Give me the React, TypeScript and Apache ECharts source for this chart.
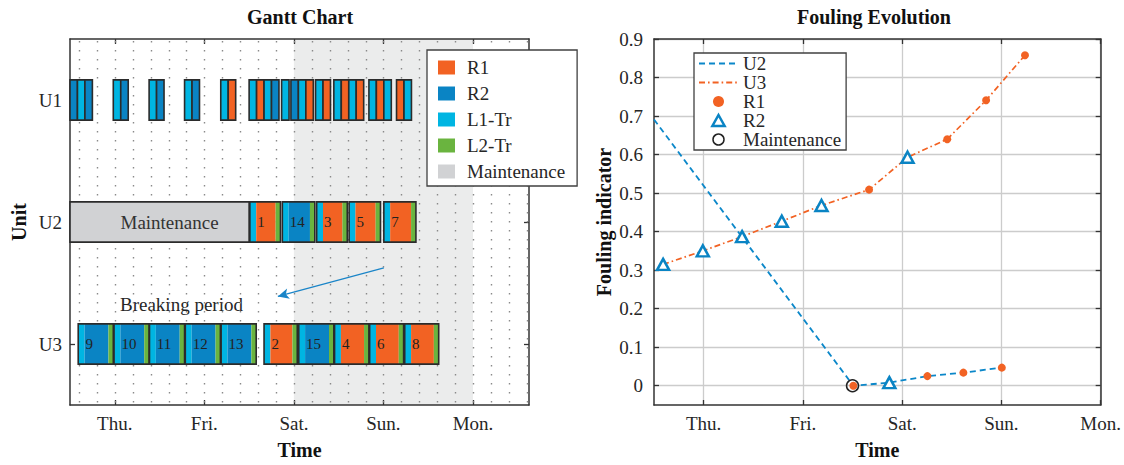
import React, { useEffect, useRef } from 'react';
import * as echarts from 'echarts';

const FONT = "'Liberation Serif', serif";
const INK = '#262626';
const AX = '#333333';

// ---- axes ----
const chartStart = 12; // Wed 12:00 (hours from Wed 00:00)
const ganttEnd = 135;
const foulingEnd = 120;
const dayTicks = [24, 48, 72, 96, 120];
const dayLabels = ['Thu.', 'Fri.', 'Sat.', 'Sun.', 'Mon.'];
const unitRows = [1, 2, 3];
const unitNames = ['U1', 'U2', 'U3'];
const foulingTicks = [0, 0.1, 0.2, 0.3, 0.4, 0.5, 0.6, 0.7, 0.8, 0.9];
const weekend = [72, 120];

// ---- tasks ----
const taskNames = ['R1', 'R2', 'L1-Tr', 'L2-Tr', 'Maintenance'];
const taskColors = ['#f26223', '#0a84c4', '#00b5e2', '#6ab43f', '#d1d2d4'];

// U1 groups of 2-hour tasks
const u1GroupStart = [12, 23.6, 33.2, 42.7, 52.4, 60.0, 68.7, 71.2, 77.8, 82.7, 92.1, 99.5];
const u1GroupTasks = [
  ['R2', 'L1-Tr', 'R2'],
  ['L1-Tr', 'R2'],
  ['L1-Tr', 'R2'],
  ['L1-Tr', 'R2'],
  ['L1-Tr', 'R1'],
  ['L1-Tr', 'R1', 'L1-Tr', 'R2'],
  ['L1-Tr'],
  ['R2', 'L1-Tr', 'R1'],
  ['L1-Tr', 'R1'],
  ['L1-Tr', 'R1', 'L1-Tr', 'R1'],
  ['L1-Tr', 'R1', 'L1-Tr'],
  ['R1', 'L1-Tr'],
];
const u1TaskHours = 2;

// U2
const u2MaintStart = 12;
const u2MaintEnd = 60;
const u2BatchNo = [1, 14, 3, 5, 7];
const u2BatchStart = [60.2, 68.9, 78.1, 86.8, 96.1];
const u2BatchProduct = ['R1', 'R2', 'R1', 'R1', 'R1'];
const u2BatchMain = [5.2, 5.7, 5.2, 5.4, 5.6];
const u2InitialFouling = 0.691;
const u2Fouling = [0, 0.008, 0.025, 0.034, 0.047];

// U3
const u3BatchNo = [9, 10, 11, 12, 13, 2, 15, 4, 6, 8];
const u3BatchStart = [14.2, 23.8, 33.3, 42.9, 52.5, 64.0, 73.3, 82.9, 92.3, 101.7];
const u3BatchProduct = ['R2', 'R2', 'R2', 'R2', 'R2', 'R1', 'R2', 'R1', 'R1', 'R1'];
const u3BatchMain = [6.4, 6.4, 6.4, 6.4, 6.4, 5.9, 6.4, 6.2, 6.1, 6.1];
const u3Fouling = [0.315, 0.35, 0.387, 0.427, 0.468, 0.509, 0.593, 0.64, 0.741, 0.858];

const l1Hours = 1.7;
const l2Hours = 1.3;

// annotation
const arrowFrom = [96.1, 2.376];
const arrowTo = [67.7, 2.61];

const C_R1 = taskColors[0];
const C_R2 = taskColors[1];
const C_L1 = taskColors[2];
const C_L2 = taskColors[3];
const C_M = taskColors[4];
const C_U2 = '#0b87c9';
const C_ARROW = '#1a85c8';
const BAR_FRAC = 0.33;

function buildOption() {
  const dotGrid: number[][] = [];
  for (let k = 0; k < 26; k++) dotGrid.push([14.4 + 4.8 * k, 1]);

  const u1Data: number[][] = [];
  u1GroupStart.forEach((s, g) => {
    u1GroupTasks[g].forEach((t, i) => {
      u1Data.push([s + i * u1TaskHours, 1, taskNames.indexOf(t)]);
    });
  });

  const batchData: number[][] = [];
  u2BatchStart.forEach((s, i) =>
    batchData.push([s, 2, l1Hours, u2BatchMain[i], l2Hours, taskNames.indexOf(u2BatchProduct[i]), u2BatchNo[i]])
  );
  u3BatchStart.forEach((s, i) =>
    batchData.push([s, 3, l1Hours, u3BatchMain[i], l2Hours, taskNames.indexOf(u3BatchProduct[i]), u3BatchNo[i]])
  );

  const u2Line = [[chartStart, u2InitialFouling], ...u2BatchStart.map((s, i) => [s, u2Fouling[i]])];
  const u3Line = u3BatchStart.map((s, i) => [s, u3Fouling[i]]);
  const r1Pts: number[][] = [];
  const r2Pts: number[][] = [];
  u2BatchStart.forEach((s, i) => (u2BatchProduct[i] === 'R1' ? r1Pts : r2Pts).push([s, u2Fouling[i]]));
  u3BatchStart.forEach((s, i) => (u3BatchProduct[i] === 'R1' ? r1Pts : r2Pts).push([s, u3Fouling[i]]));
  const maintPts = [[u2MaintEnd, u2Fouling[0]]];

  const axisLine = { show: true, onZero: false, lineStyle: { color: AX, width: 1.5 } };
  const tick = (vals: number[]) => ({
    show: true, inside: true, length: 5, customValues: vals, lineStyle: { color: AX, width: 1.3 },
  });
  const nameStyle = { fontFamily: FONT, fontSize: 20, fontWeight: 'bold', color: '#111' };
  const labelBase = { fontFamily: FONT, fontSize: 19, color: INK };
  const dayFmt = (v: number) => dayLabels[dayTicks.indexOf(v)] ?? '';

  const barH = (api: any) => Math.abs(api.size([0, 1])[1]) * BAR_FRAC;
  const hiddenSymbol = { color: 'rgba(0,0,0,0)', borderWidth: 0, opacity: 0 };

  return {
    animation: false,
    textStyle: { fontFamily: FONT, color: INK },
    grid: [
      { left: 70, top: 39, width: 459, height: 371, containLabel: false },
      { left: 654, top: 39, width: 450, height: 372, containLabel: false },
    ],
    xAxis: [
      {
        gridIndex: 0, type: 'value', min: chartStart, max: ganttEnd, position: 'bottom',
        axisLine, axisTick: tick(dayTicks),
        axisLabel: { ...labelBase, customValues: dayTicks, formatter: dayFmt, margin: 9 },
        splitLine: { show: false },
        name: 'Time', nameLocation: 'middle', nameGap: 35, nameTextStyle: nameStyle,
      },
      {
        gridIndex: 0, type: 'value', min: chartStart, max: ganttEnd, position: 'top',
        axisLine, axisTick: tick(dayTicks), axisLabel: { show: false }, splitLine: { show: false },
      },
      {
        gridIndex: 1, type: 'value', min: chartStart, max: foulingEnd, position: 'bottom',
        axisLine, axisTick: tick(dayTicks),
        axisLabel: { ...labelBase, customValues: dayTicks, formatter: dayFmt, margin: 9 },
        splitLine: { show: true, lineStyle: { color: '#cccccc', width: 1.3 } },
        name: 'Time', nameLocation: 'middle', nameGap: 35, nameTextStyle: nameStyle,
      },
      {
        gridIndex: 1, type: 'value', min: chartStart, max: foulingEnd, position: 'top',
        axisLine, axisTick: tick(dayTicks), axisLabel: { show: false }, splitLine: { show: false },
      },
    ],
    yAxis: [
      {
        gridIndex: 0, type: 'value', min: 0.5, max: 3.5, inverse: true, position: 'left',
        axisLine, axisTick: tick(unitRows),
        axisLabel: { ...labelBase, customValues: unitRows, formatter: (v: number) => unitNames[unitRows.indexOf(v)] ?? '', margin: 8 },
        splitLine: { show: false },
        name: 'Unit', nameLocation: 'middle', nameGap: 41, nameTextStyle: nameStyle,
      },
      {
        gridIndex: 0, type: 'value', min: 0.5, max: 3.5, inverse: true, position: 'right',
        axisLine, axisTick: tick(unitRows), axisLabel: { show: false }, splitLine: { show: false },
      },
      {
        gridIndex: 1, type: 'value', min: -0.05, max: 0.9, position: 'left',
        axisLine, axisTick: tick(foulingTicks),
        axisLabel: { ...labelBase, customValues: foulingTicks, formatter: (v: number) => (v === 0 ? '0' : String(Math.round(v * 10) / 10)), margin: 11 },
        splitLine: { show: true, lineStyle: { color: '#cccccc', width: 1.3 } },
        name: 'Fouling indicator', nameLocation: 'middle', nameGap: 40, nameTextStyle: nameStyle,
      },
      {
        gridIndex: 1, type: 'value', min: -0.05, max: 0.9, position: 'right',
        axisLine, axisTick: tick(foulingTicks), axisLabel: { show: false }, splitLine: { show: false },
      },
    ],
    legend: [
      {
        orient: 'vertical', left: 427, top: 50, itemWidth: 17, itemHeight: 14, itemGap: 7,
        padding: [8, 12, 5, 11], backgroundColor: '#fff', borderColor: '#404040', borderWidth: 1.3,
        selectedMode: false,
        textStyle: { fontFamily: FONT, fontSize: 19, lineHeight: 19, color: INK, padding: [0, 0, 0, 7] },
        data: taskNames.map((n, i) => ({ name: n, icon: 'rect', itemStyle: { color: taskColors[i], borderWidth: 0, opacity: 1 } })),
      },
      {
        orient: 'vertical', left: 694, top: 53, itemWidth: 39, itemHeight: 11, itemGap: 0,
        padding: [1, 5, 1, 4], backgroundColor: '#fff', borderColor: '#404040', borderWidth: 1.3,
        selectedMode: false,
        textStyle: { fontFamily: FONT, fontSize: 19, lineHeight: 19, color: INK },
        data: [
          { name: 'U2', itemStyle: hiddenSymbol },
          { name: 'U3', itemStyle: hiddenSymbol },
          { name: 'R1', icon: 'circle', itemStyle: { color: C_R1, borderWidth: 0 } },
          { name: 'R2', icon: 'path://M5,0L10,9L0,9Z', itemStyle: { color: '#fff', borderColor: C_R2, borderWidth: 2.5 } },
          { name: 'Maintenance', icon: 'circle', itemStyle: { color: '#fff', borderColor: '#222', borderWidth: 1.5 } },
        ],
      },
    ],
    graphic: [
      { type: 'text', x: 300, y: 17, style: { text: 'Gantt Chart', fontFamily: FONT, fontSize: 20, fontWeight: 'bold', fill: '#111', align: 'center', verticalAlign: 'middle' } },
      { type: 'text', x: 874, y: 17, style: { text: 'Fouling Evolution', fontFamily: FONT, fontSize: 20, fontWeight: 'bold', fill: '#111', align: 'center', verticalAlign: 'middle' } },
      { type: 'text', x: 120, y: 304, style: { text: 'Breaking period', fontFamily: FONT, fontSize: 19, fill: INK, align: 'left', verticalAlign: 'middle' } },
    ],
    series: [
      {
        type: 'custom', name: 'weekend', xAxisIndex: 0, yAxisIndex: 0, z: 0, silent: true,
        data: [weekend],
        renderItem: (params: any, api: any) => {
          const cs = params.coordSys;
          const x0 = api.coord([api.value(0), 1])[0];
          const x1 = api.coord([api.value(1), 1])[0];
          return { type: 'rect', shape: { x: x0, y: cs.y, width: x1 - x0, height: cs.height }, style: { fill: '#ebecec' } };
        },
      },
      {
        type: 'custom', name: 'dots', xAxisIndex: 0, yAxisIndex: 0, z: 1, silent: true,
        data: dotGrid,
        renderItem: (params: any, api: any) => {
          const cs = params.coordSys;
          const x = Math.round(api.coord([api.value(0), 1])[0]) + 0.5;
          return { type: 'line', shape: { x1: x, y1: cs.y + 2, x2: x, y2: cs.y + cs.height }, style: { stroke: '#8a8a8a', lineWidth: 1.4, lineDash: [1.6, 7.4] } };
        },
      },
      {
        type: 'custom', name: 'u1', xAxisIndex: 0, yAxisIndex: 0, z: 2, silent: true,
        data: u1Data,
        renderItem: (params: any, api: any) => {
          const s = api.value(0), row = api.value(1), ci = api.value(2);
          const p0 = api.coord([s, row]);
          const p1 = api.coord([s + u1TaskHours, row]);
          const h = barH(api);
          return { type: 'rect', shape: { x: p0[0], y: p0[1] - h / 2, width: p1[0] - p0[0], height: h }, style: { fill: taskColors[ci], stroke: '#2b2b2b', lineWidth: 1.6 } };
        },
      },
      {
        type: 'custom', name: 'maint', xAxisIndex: 0, yAxisIndex: 0, z: 2, silent: true,
        data: [[u2MaintStart, 2, u2MaintEnd]],
        renderItem: (params: any, api: any) => {
          const row = api.value(1);
          const p0 = api.coord([api.value(0), row]);
          const p1 = api.coord([api.value(2), row]);
          const h = barH(api);
          return {
            type: 'group',
            children: [
              { type: 'rect', shape: { x: p0[0], y: p0[1] - h / 2, width: p1[0] - p0[0], height: h }, style: { fill: C_M, stroke: '#2b2b2b', lineWidth: 1.6 } },
              { type: 'text', style: { text: 'Maintenance', x: (p0[0] + p1[0]) / 2 + 10, y: p0[1], fontFamily: FONT, fontSize: 19, fill: '#333', align: 'center', verticalAlign: 'middle' } },
            ],
          };
        },
      },
      {
        type: 'custom', name: 'batches', xAxisIndex: 0, yAxisIndex: 0, z: 2, silent: true,
        data: batchData,
        renderItem: (params: any, api: any) => {
          const s = api.value(0), row = api.value(1);
          const l1 = api.value(2), main = api.value(3), l2 = api.value(4);
          const ci = api.value(5), no = api.value(6);
          const xs = [s, s + l1, s + l1 + main, s + l1 + main + l2].map((t) => api.coord([t, row])[0]);
          const yc = api.coord([s, row])[1];
          const h = barH(api);
          const y = yc - h / 2;
          return {
            type: 'group',
            children: [
              { type: 'rect', shape: { x: xs[0], y, width: xs[1] - xs[0], height: h }, style: { fill: C_L1 } },
              { type: 'rect', shape: { x: xs[1], y, width: xs[2] - xs[1], height: h }, style: { fill: taskColors[ci] } },
              { type: 'rect', shape: { x: xs[2], y, width: xs[3] - xs[2], height: h }, style: { fill: C_L2 } },
              { type: 'rect', shape: { x: xs[0], y, width: xs[3] - xs[0], height: h }, style: { fill: 'none', stroke: '#2b2b2b', lineWidth: 1.6 } },
              { type: 'text', style: { text: String(no), x: xs[1] + 1, y: yc, fontFamily: FONT, fontSize: 15, fill: '#222', align: 'left', verticalAlign: 'middle' } },
            ],
          };
        },
      },
      { type: 'scatter', name: 'L1-Tr', xAxisIndex: 0, yAxisIndex: 0, data: [], itemStyle: { color: C_L1 } },
      { type: 'scatter', name: 'L2-Tr', xAxisIndex: 0, yAxisIndex: 0, data: [], itemStyle: { color: C_L2 } },
      {
        type: 'scatter', name: 'arrow', xAxisIndex: 0, yAxisIndex: 0, data: [], silent: true,
        markLine: {
          silent: true, symbol: ['none', 'arrow'], symbolSize: [8, 11], label: { show: false },
          lineStyle: { color: C_ARROW, width: 1.3, type: 'solid' },
          data: [[{ coord: arrowFrom }, { coord: arrowTo }]],
        },
      },
      {
        type: 'line', name: 'U2', xAxisIndex: 2, yAxisIndex: 2, data: u2Line, symbol: 'none', z: 3,
        lineStyle: { color: C_U2, width: 1.8, type: [6, 4] }, itemStyle: { color: C_U2 },
      },
      {
        type: 'line', name: 'U3', xAxisIndex: 2, yAxisIndex: 2, data: u3Line, symbol: 'none', z: 3,
        lineStyle: { color: C_R1, width: 1.7, type: [6, 3, 1.6, 3] }, itemStyle: { color: C_R1 },
      },
      {
        type: 'scatter', name: 'R1', xAxisIndex: 2, yAxisIndex: 2, data: r1Pts, symbol: 'circle', symbolSize: 8, z: 4,
        itemStyle: { color: C_R1, opacity: 1 },
      },
      {
        type: 'scatter', name: 'R2', xAxisIndex: 2, yAxisIndex: 2, data: r2Pts, symbol: 'triangle', symbolSize: [12, 11], z: 4,
        itemStyle: { color: '#fff', borderColor: C_R2, borderWidth: 2.5, opacity: 1 },
      },
      {
        type: 'scatter', name: 'Maintenance', xAxisIndex: 2, yAxisIndex: 2, data: maintPts, symbol: 'circle', symbolSize: 12, z: 5,
        itemStyle: { color: 'rgba(0,0,0,0)', borderColor: '#222', borderWidth: 1.5, opacity: 1 },
      },
    ],
  };
}

export default function App() {
  const ref = useRef<HTMLDivElement>(null);
  useEffect(() => {
    document.body.style.margin = '0';
    const chart = echarts.init(ref.current as HTMLDivElement, null, { renderer: 'svg' });
    chart.setOption(buildOption() as any);
    return () => chart.dispose();
  }, []);
  return <div ref={ref} style={{ position: 'absolute', left: 0, top: 0, width: 1124, height: 465, background: '#fff' }} />;
}
